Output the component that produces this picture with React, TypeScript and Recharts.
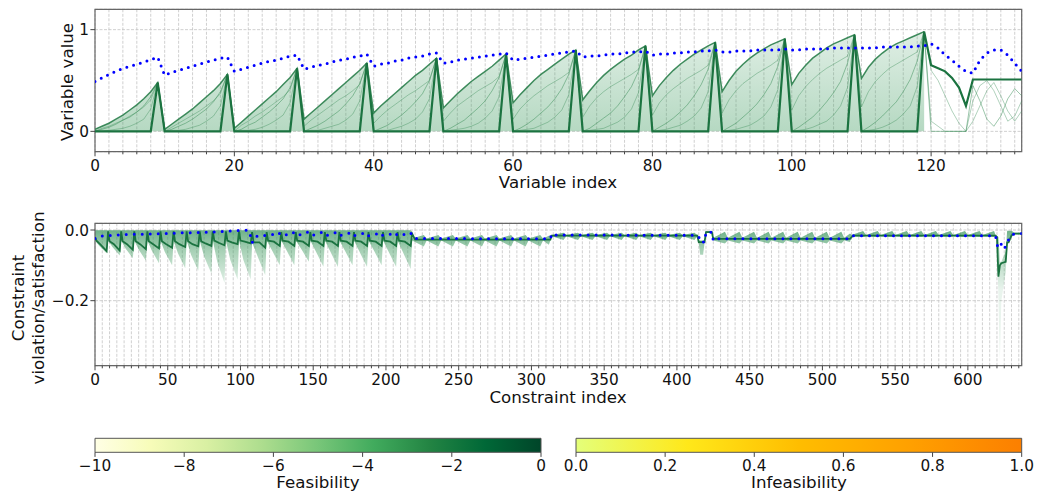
import React from "react";
import {
  ComposedChart,
  Line,
  Area,
  XAxis,
  YAxis,
  CartesianGrid,
  ReferenceArea,
} from "recharts";

const FONT = "DejaVu Sans, sans-serif";

// ---- top panel: variable values (index 0..133) ----
const finalVals = [
  0, 0, 0, 0, 0, 0, 0, 0, 0, 0.48,
  0, 0, 0, 0, 0, 0, 0, 0, 0, 0.56,
  0, 0, 0, 0, 0, 0, 0, 0, 0, 0.62,
  0, 0, 0, 0, 0, 0, 0, 0, 0, 0.67,
  0, 0, 0, 0, 0, 0, 0, 0, 0, 0.72,
  0, 0, 0, 0, 0, 0, 0, 0, 0, 0.76,
  0, 0, 0, 0, 0, 0, 0, 0, 0, 0.8,
  0, 0, 0, 0, 0, 0, 0, 0, 0, 0.84,
  0, 0, 0, 0, 0, 0, 0, 0, 0, 0.875,
  0, 0, 0, 0, 0, 0, 0, 0, 0, 0.91,
  0, 0, 0, 0, 0, 0, 0, 0, 0, 0.95,
  0, 0, 0, 0, 0, 0, 0, 0, 0, 0.98,
  0.65, 0.62, 0.59, 0.525, 0.43, 0.25, 0.51, 0.51, 0.51, 0.51, 0.51, 0.51, 0.51, 0.51,
];

const envelopeVals = [
  0.02, 0.05, 0.08, 0.12, 0.16, 0.21, 0.26, 0.32, 0.39, 0.48,
  0.02, 0.07, 0.12, 0.17, 0.22, 0.28, 0.34, 0.4, 0.47, 0.56,
  0.03, 0.09, 0.15, 0.21, 0.27, 0.33, 0.39, 0.46, 0.53, 0.62,
  0.12, 0.18, 0.24, 0.3, 0.36, 0.42, 0.48, 0.54, 0.6, 0.67,
  0.18, 0.25, 0.31, 0.37, 0.43, 0.49, 0.55, 0.6, 0.66, 0.72,
  0.23, 0.3, 0.37, 0.43, 0.49, 0.54, 0.59, 0.64, 0.7, 0.76,
  0.28, 0.36, 0.43, 0.5, 0.56, 0.61, 0.66, 0.71, 0.76, 0.8,
  0.31, 0.4, 0.48, 0.55, 0.61, 0.66, 0.71, 0.75, 0.8, 0.84,
  0.35, 0.45, 0.53, 0.6, 0.66, 0.71, 0.76, 0.8, 0.84, 0.875,
  0.39, 0.5, 0.59, 0.66, 0.72, 0.77, 0.81, 0.85, 0.88, 0.91,
  0.46, 0.57, 0.65, 0.72, 0.77, 0.82, 0.86, 0.89, 0.92, 0.95,
  0.52, 0.63, 0.71, 0.77, 0.82, 0.86, 0.89, 0.92, 0.95, 0.98,
  null, null, null, null, null, null, null, null, null, null, null, null, null, null,
];

const iterA = [
  0, 0.02, 0.04, 0.07, 0.11, 0.14, 0.19, 0.25, 0.34, 0.48,
  0, 0.02, 0.05, 0.08, 0.12, 0.17, 0.22, 0.29, 0.39, 0.56,
  0, 0.02, 0.06, 0.09, 0.14, 0.19, 0.25, 0.32, 0.43, 0.62,
  0, 0.03, 0.06, 0.1, 0.15, 0.2, 0.27, 0.35, 0.47, 0.67,
  0, 0.03, 0.06, 0.11, 0.16, 0.22, 0.29, 0.37, 0.5, 0.72,
  0, 0.03, 0.07, 0.11, 0.17, 0.23, 0.3, 0.4, 0.53, 0.76,
  0, 0.03, 0.07, 0.12, 0.18, 0.24, 0.32, 0.42, 0.56, 0.8,
  0, 0.03, 0.08, 0.13, 0.18, 0.25, 0.34, 0.44, 0.59, 0.84,
  0, 0.04, 0.08, 0.13, 0.19, 0.26, 0.35, 0.46, 0.61, 0.875,
  0, 0.04, 0.08, 0.14, 0.2, 0.27, 0.36, 0.47, 0.64, 0.91,
  0, 0.04, 0.09, 0.14, 0.21, 0.29, 0.38, 0.49, 0.67, 0.95,
  0, 0.04, 0.09, 0.15, 0.22, 0.29, 0.39, 0.51, 0.69, 0.98,
  0, 0, 0, 0, 0, 0, 0.45, 0.3, 0.12, 0.05, 0.15, 0.32, 0.42, 0.35,
];

const iterB = [
  0, 0, 0.01, 0.02, 0.03, 0.05, 0.08, 0.12, 0.22, 0.48,
  0, 0.01, 0.01, 0.02, 0.04, 0.06, 0.1, 0.15, 0.25, 0.56,
  0, 0.01, 0.01, 0.02, 0.04, 0.07, 0.11, 0.16, 0.28, 0.62,
  0, 0.01, 0.01, 0.03, 0.05, 0.07, 0.11, 0.17, 0.3, 0.67,
  0, 0.01, 0.01, 0.03, 0.05, 0.08, 0.12, 0.19, 0.32, 0.72,
  0, 0.01, 0.02, 0.03, 0.05, 0.08, 0.13, 0.2, 0.34, 0.76,
  0, 0.01, 0.02, 0.03, 0.06, 0.09, 0.14, 0.21, 0.36, 0.8,
  0, 0.01, 0.02, 0.03, 0.06, 0.09, 0.14, 0.22, 0.38, 0.84,
  0, 0.01, 0.02, 0.04, 0.06, 0.1, 0.15, 0.23, 0.39, 0.875,
  0, 0.01, 0.02, 0.04, 0.06, 0.1, 0.15, 0.24, 0.41, 0.91,
  0, 0.01, 0.02, 0.04, 0.07, 0.1, 0.16, 0.25, 0.43, 0.95,
  0, 0.01, 0.02, 0.04, 0.07, 0.11, 0.17, 0.25, 0.44, 0.98,
  0.1, 0.05, 0, 0, 0, 0, 0.1, 0.25, 0.4, 0.48, 0.35, 0.2, 0.1, 0.2,
];

const iterC = [
  0, 0.03, 0.05, 0.08, 0.11, 0.15, 0.19, 0.24, 0.31, 0.48,
  0, 0.04, 0.08, 0.12, 0.16, 0.2, 0.25, 0.3, 0.37, 0.56,
  0, 0.06, 0.1, 0.15, 0.19, 0.24, 0.29, 0.34, 0.41, 0.62,
  0.05, 0.11, 0.16, 0.21, 0.26, 0.31, 0.35, 0.4, 0.46, 0.67,
  0.08, 0.15, 0.21, 0.26, 0.31, 0.36, 0.4, 0.45, 0.5, 0.72,
  0.1, 0.18, 0.25, 0.3, 0.35, 0.4, 0.44, 0.48, 0.54, 0.76,
  0.12, 0.22, 0.29, 0.35, 0.4, 0.45, 0.49, 0.53, 0.58, 0.8,
  0.14, 0.25, 0.33, 0.39, 0.44, 0.48, 0.52, 0.56, 0.61, 0.84,
  0.16, 0.28, 0.36, 0.42, 0.47, 0.52, 0.56, 0.6, 0.65, 0.875,
  0.18, 0.31, 0.4, 0.47, 0.52, 0.57, 0.61, 0.65, 0.7, 0.91,
  0.21, 0.35, 0.44, 0.51, 0.57, 0.62, 0.66, 0.7, 0.74, 0.95,
  0.24, 0.39, 0.49, 0.56, 0.62, 0.66, 0.7, 0.74, 0.78, 0.98,
  0.6, 0.5, 0.35, 0.2, 0.08, 0, 0.3, 0.45, 0.5, 0.4, 0.25, 0.1, 0.15, 0.3,
];

const infeasTop = [
  0.49, 0.525, 0.56, 0.59, 0.62, 0.64, 0.66, 0.68, 0.705, 0.73,
  0.55, 0.58, 0.6, 0.62, 0.64, 0.66, 0.68, 0.7, 0.72, 0.73,
  0.59, 0.61, 0.63, 0.65, 0.67, 0.69, 0.7, 0.72, 0.74, 0.75,
  0.61, 0.63, 0.65, 0.66, 0.68, 0.7, 0.71, 0.73, 0.74, 0.76,
  0.64, 0.66, 0.67, 0.69, 0.7, 0.72, 0.73, 0.74, 0.76, 0.77,
  0.67, 0.68, 0.7, 0.71, 0.72, 0.73, 0.74, 0.75, 0.76, 0.77,
  0.7, 0.71, 0.72, 0.73, 0.74, 0.75, 0.76, 0.77, 0.78, 0.79,
  0.73, 0.74, 0.74, 0.75, 0.76, 0.76, 0.77, 0.78, 0.78, 0.79,
  0.75, 0.76, 0.76, 0.77, 0.77, 0.78, 0.78, 0.79, 0.79, 0.8,
  0.78, 0.78, 0.79, 0.79, 0.79, 0.8, 0.8, 0.8, 0.8, 0.81,
  0.8, 0.8, 0.81, 0.81, 0.81, 0.81, 0.82, 0.82, 0.82, 0.82,
  0.82, 0.82, 0.82, 0.83, 0.83, 0.83, 0.83, 0.83, 0.84, 0.84,
  0.86, 0.82, 0.75, 0.7, 0.64, 0.59, 0.57, 0.7, 0.77, 0.8, 0.8, 0.75, 0.67, 0.59,
];

const varMajor = [0, 20, 40, 60, 80, 100, 120];
const varMinor = Array.from({ length: 67 }, (_, k) => k * 2);

// ---- bottom panel: constraints (index 0..637) ----
const consDark: [number, number][] = [
  [0, -0.02], [1, -0.03], [4, -0.042], [8, -0.06],
  [9, -0.004], [10, -0.032], [13, -0.04], [17, -0.058],
  [18, -0.004], [19, -0.032], [22, -0.04], [26, -0.056],
  [27, -0.004], [28, -0.032], [31, -0.04], [35, -0.054],
  [36, -0.004], [37, -0.032], [40, -0.04], [44, -0.052],
  [45, -0.004], [46, -0.032], [49, -0.04], [53, -0.05],
  [54, -0.004], [55, -0.032], [58, -0.04], [62, -0.048],
  [63, -0.004], [64, -0.032], [67, -0.04], [71, -0.046],
  [72, -0.004], [73, -0.032], [76, -0.038], [80, -0.045],
  [81, -0.004], [82, -0.03], [85, -0.036], [89, -0.043],
  [90, -0.004], [91, -0.03], [94, -0.035], [98, -0.04],
  [99, -0.004], [100, -0.03], [103, -0.033], [107, -0.038],
  [108, -0.006], [109, -0.035], [113, -0.035], [117, -0.05],
  [118, -0.006], [119, -0.03], [123, -0.033], [127, -0.045],
  [128, -0.006], [129, -0.03], [133, -0.033], [137, -0.045],
  [138, -0.006], [139, -0.03], [143, -0.033], [147, -0.045],
  [148, -0.006], [149, -0.03], [153, -0.033], [157, -0.045],
  [158, -0.006], [159, -0.03], [163, -0.033], [167, -0.045],
  [168, -0.006], [169, -0.03], [173, -0.033], [177, -0.045],
  [178, -0.006], [179, -0.03], [183, -0.033], [187, -0.045],
  [188, -0.006], [189, -0.03], [193, -0.033], [197, -0.045],
  [198, -0.006], [199, -0.03], [203, -0.033], [207, -0.045],
  [208, -0.006], [209, -0.03], [213, -0.033], [217, -0.045],
  [218, -0.01], [220, -0.027], [313, -0.027], [314, -0.016], [414, -0.016],
  [415, -0.034], [419, -0.034], [420, -0.006], [424, -0.006], [425, -0.025],
  [519, -0.025], [521, -0.016], [619, -0.016], [620, -0.02], [621, -0.132],
  [622, -0.1], [623, -0.094], [626, -0.09], [627, -0.035], [628, -0.035],
  [630, -0.015], [632, -0.01], [637, -0.01],
];

// spread of earlier iterations: [index, low, high]
const consFan: [number, number, number][] = [
  [0, -0.03, -0.001], [3, -0.045, -0.001], [8, -0.066, -0.001],
  [9, -0.03, -0.001], [12, -0.048, -0.001], [17, -0.072, -0.001],
  [18, -0.03, -0.001], [21, -0.052, -0.001], [26, -0.08, -0.001],
  [27, -0.03, -0.001], [30, -0.055, -0.001], [35, -0.087, -0.001],
  [36, -0.03, -0.001], [39, -0.058, -0.001], [44, -0.094, -0.001],
  [45, -0.03, -0.001], [48, -0.062, -0.001], [53, -0.1, -0.001],
  [54, -0.03, -0.001], [57, -0.066, -0.001], [62, -0.108, -0.001],
  [63, -0.03, -0.001], [66, -0.07, -0.001], [71, -0.115, -0.001],
  [72, -0.03, -0.001], [75, -0.075, -0.001], [80, -0.123, -0.001],
  [81, -0.03, -0.001], [84, -0.09, -0.001], [89, -0.15, -0.001],
  [90, -0.03, -0.001], [93, -0.085, -0.001], [98, -0.14, -0.001],
  [99, -0.03, -0.001], [102, -0.085, -0.001], [107, -0.14, -0.001],
  [108, -0.035, -0.001], [112, -0.077, -0.001], [117, -0.128, -0.001],
  [118, -0.03, -0.001], [122, -0.06, -0.001], [127, -0.1, -0.001],
  [128, -0.03, -0.001], [132, -0.06, -0.001], [137, -0.1, -0.001],
  [138, -0.03, -0.001], [142, -0.055, -0.001], [147, -0.09, -0.001],
  [148, -0.03, -0.001], [152, -0.062, -0.001], [157, -0.104, -0.001],
  [158, -0.03, -0.001], [162, -0.063, -0.001], [167, -0.105, -0.001],
  [168, -0.03, -0.001], [172, -0.06, -0.001], [177, -0.1, -0.001],
  [178, -0.03, -0.001], [182, -0.063, -0.001], [187, -0.105, -0.001],
  [188, -0.03, -0.001], [192, -0.06, -0.001], [197, -0.1, -0.001],
  [198, -0.03, -0.001], [202, -0.063, -0.001], [207, -0.105, -0.001],
  [208, -0.03, -0.001], [212, -0.066, -0.001], [217, -0.11, -0.001],
  [218, -0.03, -0.024], [226, -0.047, -0.014], [228, -0.03, -0.024], [236, -0.047, -0.014],
  [238, -0.03, -0.024], [246, -0.047, -0.014], [248, -0.03, -0.024], [256, -0.047, -0.014],
  [258, -0.03, -0.024], [266, -0.047, -0.014], [268, -0.03, -0.024], [276, -0.047, -0.014],
  [278, -0.03, -0.024], [286, -0.047, -0.014], [288, -0.03, -0.024], [296, -0.047, -0.014],
  [298, -0.03, -0.024], [306, -0.047, -0.014], [308, -0.03, -0.024], [312, -0.042, -0.016],
  [314, -0.018, -0.014], [322, -0.028, -0.008], [324, -0.018, -0.014], [332, -0.028, -0.008],
  [334, -0.018, -0.014], [342, -0.028, -0.008], [344, -0.018, -0.014], [352, -0.028, -0.008],
  [354, -0.018, -0.014], [362, -0.028, -0.008], [364, -0.018, -0.014], [372, -0.028, -0.008],
  [374, -0.018, -0.014], [382, -0.028, -0.008], [384, -0.018, -0.014], [392, -0.028, -0.008],
  [394, -0.018, -0.014], [402, -0.028, -0.008], [404, -0.018, -0.014], [412, -0.028, -0.008],
  [414, -0.018, -0.014], [415, -0.036, -0.03], [416, -0.07, -0.03], [418, -0.07, -0.03],
  [419, -0.036, -0.03], [420, -0.008, -0.003], [424, -0.008, -0.003],
  [425, -0.03, -0.022], [433, -0.038, -0.005], [435, -0.03, -0.022], [443, -0.038, -0.005],
  [445, -0.03, -0.022], [453, -0.038, -0.005], [455, -0.03, -0.022], [463, -0.038, -0.005],
  [465, -0.03, -0.022], [473, -0.038, -0.005], [475, -0.03, -0.022], [483, -0.038, -0.005],
  [485, -0.03, -0.022], [493, -0.038, -0.005], [495, -0.03, -0.022], [503, -0.038, -0.005],
  [505, -0.03, -0.022], [513, -0.038, -0.005], [515, -0.03, -0.022], [519, -0.034, -0.01],
  [520, -0.018, -0.014], [528, -0.02, -0.003], [530, -0.018, -0.014], [538, -0.02, -0.003],
  [540, -0.018, -0.014], [548, -0.02, -0.003], [550, -0.018, -0.014], [558, -0.02, -0.003],
  [560, -0.018, -0.014], [568, -0.02, -0.003], [570, -0.018, -0.014], [578, -0.02, -0.003],
  [580, -0.018, -0.014], [588, -0.02, -0.003], [590, -0.018, -0.014], [598, -0.02, -0.003],
  [600, -0.018, -0.014], [608, -0.02, -0.003], [610, -0.018, -0.014], [618, -0.02, -0.003],
  [619, -0.018, -0.014], [620, -0.02, -0.016], [621, -0.2, -0.02], [622, -0.368, -0.09],
  [623, -0.2, -0.09], [626, -0.12, -0.06], [627, -0.04, -0.002], [630, -0.02, -0.002],
  [632, -0.012, -0.008], [637, -0.012, -0.008],
];

const consInfeas: [number, number][] = [
  [0, -0.024], [2, -0.018], [9, -0.016], [20, -0.013], [40, -0.011], [60, -0.008],
  [80, -0.006], [95, -0.002], [102, 0], [106, -0.002], [108, -0.036], [110, -0.02],
  [113, -0.014], [118, -0.016], [123, -0.012], [126, -0.006], [128, -0.016], [133, -0.012],
  [136, -0.006], [138, -0.016], [143, -0.012], [146, -0.006], [148, -0.016], [153, -0.012],
  [156, -0.006], [158, -0.016], [163, -0.012], [166, -0.006], [168, -0.016], [173, -0.012],
  [176, -0.006], [178, -0.016], [183, -0.012], [186, -0.006], [188, -0.016], [193, -0.012],
  [196, -0.006], [198, -0.016], [203, -0.012], [206, -0.006], [208, -0.016], [213, -0.012],
  [216, -0.006], [218, -0.012], [220, -0.024], [313, -0.025], [314, -0.01], [316, -0.014],
  [414, -0.015], [415, -0.018], [416, -0.034], [419, -0.034], [420, -0.006], [424, -0.006],
  [425, -0.03], [426, -0.025], [518, -0.025], [520, -0.016], [619, -0.016], [620, -0.04],
  [621, -0.052], [623, -0.04], [625, -0.054], [627, -0.035], [629, -0.02], [631, -0.012],
  [637, -0.01],
];

const consMajor = [0, 50, 100, 150, 200, 250, 300, 350, 400, 450, 500, 550, 600];
const consMinor = Array.from({ length: 128 }, (_, k) => k * 5);

// colorbars
const feasTicks = [-10, -8, -6, -4, -2, 0];
const infeasTicks = [0, 0.2, 0.4, 0.6, 0.8, 1.0];
const ylgnStops = ["#ffffe5", "#f7fcb9", "#d9f0a3", "#addd8e", "#78c679", "#41ab5d", "#238443", "#006837", "#004529"];
const wistiaStops = ["#e4ff7a", "#ffe81a", "#ffbd00", "#ffa000", "#fc7f00"];

const minus = (v: number, digits: number) =>
  (v < 0 ? "\u2212" : "") + Math.abs(v).toFixed(digits);

function xTick(major: number[], fmt: (v: number) => string) {
  return (p: any) => {
    const isMajor = major.includes(p.payload.value);
    return (
      <g>
        <line x1={p.x} x2={p.x} y1={p.y} y2={p.y + (isMajor ? 4.6 : 2.6)} stroke="#444" strokeWidth={1} />
        {isMajor && (
          <text x={p.x} y={p.y + 19} textAnchor="middle" fontSize={15.3} fontFamily={FONT} fill="#111">
            {fmt(p.payload.value)}
          </text>
        )}
      </g>
    );
  };
}

function yTick(fmt: (v: number) => string) {
  return (p: any) => (
    <g>
      <line x1={p.x} x2={p.x - 4.6} y1={p.y} y2={p.y} stroke="#444" strokeWidth={1} />
      <text x={p.x - 6} y={p.y} dy="0.36em" textAnchor="end" fontSize={15.3} fontFamily={FONT} fill="#111">
        {fmt(p.payload.value)}
      </text>
    </g>
  );
}

function Title({ x, y, rotate, children }: any) {
  return (
    <div
      style={{
        position: "absolute",
        left: x,
        top: y,
        transform: `translate(-50%, -50%)${rotate ? " rotate(-90deg)" : ""}`,
        fontFamily: FONT,
        fontSize: 16.67,
        lineHeight: "20px",
        color: "#111",
        whiteSpace: "nowrap",
        textAlign: "center",
      }}
    >
      {children}
    </div>
  );
}

function ColorBar({ left, width, marginLeft, marginRight, ticks, gradient, fmt }: any) {
  const lo = ticks[0];
  const hi = ticks[ticks.length - 1];
  const barData = [{ v: lo, y: 1 }, { v: hi, y: 1 }];
  return (
    <div style={{ position: "absolute", left, top: 420 }}>
      <ComposedChart width={width} height={80} data={barData} margin={{ top: 18.3, right: marginRight, bottom: 17.7, left: marginLeft }}>
        <XAxis dataKey="v" type="number" domain={[lo, hi]} ticks={ticks} interval={0} height={30}
          tickSize={0} tickMargin={0} axisLine={false} tickLine={false} tick={xTick(ticks, fmt)} />
        <YAxis hide type="number" domain={[0, 1]} />
        <Area dataKey="y" type="linear" baseValue={0} stroke="none" fill={`url(#${gradient})`} fillOpacity={1} isAnimationActive={false} />
        <ReferenceArea x1={lo} x2={hi} y1={0} y2={1} fill="none" stroke="#555" strokeWidth={1} />
      </ComposedChart>
    </div>
  );
}

export default function App() {
  const topData = finalVals.map((f, i) => ({
    i,
    fin: f,
    env: envelopeVals[i],
    a: iterA[i],
    b: iterB[i],
    c: iterC[i],
    inf: infeasTop[i],
  }));
  const darkData = consDark.map(([x, v]) => ({ x, v }));
  const fanData = consFan.map(([x, lo, hi]) => ({ x, r: [lo, hi] }));
  const infData = consInfeas.map(([x, v]) => ({ x, v }));

  return (
    <div style={{ position: "absolute", left: 0, top: 0, width: 1039, height: 500, background: "#fff" }}>
      <svg width={0} height={0} style={{ position: "absolute" }}>
        <defs>
          <linearGradient id="ylgn" x1="0" y1="0" x2="1" y2="0">
            {ylgnStops.map((c, k) => (
              <stop key={k} offset={k / (ylgnStops.length - 1)} stopColor={c} />
            ))}
          </linearGradient>
          <linearGradient id="wistia" x1="0" y1="0" x2="1" y2="0">
            {wistiaStops.map((c, k) => (
              <stop key={k} offset={k / (wistiaStops.length - 1)} stopColor={c} />
            ))}
          </linearGradient>
          <linearGradient id="fanTop" x1="0" y1="0" x2="0" y2="1">
            <stop offset="0" stopColor="#3d9a5e" stopOpacity={0.16} />
            <stop offset="1" stopColor="#3d9a5e" stopOpacity={0.38} />
          </linearGradient>
          <linearGradient id="fanBottom" gradientUnits="userSpaceOnUse" x1="0" y1="30" x2="0" y2="90">
            <stop offset="0" stopColor="#2f8f55" stopOpacity={0.7} />
            <stop offset="0.35" stopColor="#3d9a5e" stopOpacity={0.45} />
            <stop offset="1" stopColor="#4aa36a" stopOpacity={0.12} />
          </linearGradient>
        </defs>
      </svg>

      {/* top panel */}
      <div style={{ position: "absolute", left: 0, top: 0 }}>
        <ComposedChart width={1039} height={200} data={topData} margin={{ top: 9.3, right: 17.3, bottom: 18.3, left: 0 }}>
          <CartesianGrid stroke="#c4c4c4" strokeDasharray="3 1.5" strokeWidth={0.8} />
          <XAxis dataKey="i" type="number" domain={[0, 133]} ticks={varMinor} interval={0} height={30}
            tickSize={0} tickMargin={0} axisLine={false} tickLine={false} allowDataOverflow
            tick={xTick(varMajor, (v) => String(v))} />
          <YAxis type="number" domain={[-0.2, 1.2]} ticks={[0, 1]} interval={0} width={95}
            tickSize={0} tickMargin={0} axisLine={false} tickLine={false} allowDataOverflow
            tick={yTick((v) => String(v))} />
          <Area dataKey="env" type="linear" baseValue={0} stroke="none" fill="url(#fanTop)" fillOpacity={1} isAnimationActive={false} />
          <Line dataKey="b" type="linear" stroke="#3c8f5a" strokeOpacity={0.4} strokeWidth={1} dot={false} isAnimationActive={false} />
          <Line dataKey="c" type="linear" stroke="#3c8f5a" strokeOpacity={0.4} strokeWidth={1} dot={false} isAnimationActive={false} />
          <Line dataKey="a" type="linear" stroke="#3c8f5a" strokeOpacity={0.5} strokeWidth={1} dot={false} isAnimationActive={false} />
          <Line dataKey="env" type="linear" stroke="#2b804c" strokeOpacity={0.9} strokeWidth={1.5} dot={false} isAnimationActive={false} />
          <Line dataKey="fin" type="linear" stroke="#1b7340" strokeWidth={2.2} dot={false} isAnimationActive={false} />
          <Line dataKey="inf" type="linear" stroke="#0000ff" strokeWidth={3} strokeDasharray="0 7" strokeLinecap="round" dot={false} isAnimationActive={false} />
          <ReferenceArea x1={0} x2={133} y1={-0.2} y2={1.2} fill="none" stroke="#666" strokeWidth={1.2} />
        </ComposedChart>
      </div>

      {/* bottom panel */}
      <div style={{ position: "absolute", left: 0, top: 200 }}>
        <ComposedChart width={1039} height={215} margin={{ top: 23.3, right: 17.3, bottom: 19.3, left: 0 }}>
          <CartesianGrid stroke="#c4c4c4" strokeDasharray="3 1.5" strokeWidth={0.8} />
          <XAxis dataKey="x" type="number" domain={[0, 637]} ticks={consMinor} interval={0} height={30}
            tickSize={0} tickMargin={0} axisLine={false} tickLine={false} allowDataOverflow
            tick={xTick(consMajor, (v) => String(v))} />
          <YAxis type="number" domain={[-0.384, 0.019]} ticks={[-0.2, 0]} interval={0} width={95}
            tickSize={0} tickMargin={0} axisLine={false} tickLine={false} allowDataOverflow
            tick={yTick((v) => minus(v, 1))} />
          <Area data={fanData} dataKey="r" type="linear" stroke="none" fill="url(#fanBottom)" fillOpacity={1} isAnimationActive={false} />
          <Line data={darkData} dataKey="v" type="linear" stroke="#1b7340" strokeWidth={1.8} dot={false} isAnimationActive={false} />
          <Line data={infData} dataKey="v" type="linear" stroke="#0000ff" strokeWidth={3} strokeDasharray="0 8" strokeLinecap="round" dot={false} isAnimationActive={false} />
          <ReferenceArea x1={0} x2={637} y1={-0.384} y2={0.019} fill="none" stroke="#666" strokeWidth={1.2} />
        </ComposedChart>
      </div>

      {/* colorbars */}
      <ColorBar left={0} width={560} marginLeft={95} marginRight={19} ticks={feasTicks} gradient="ylgn" fmt={(v: number) => minus(v, 0)} />
      <ColorBar left={540} width={499} marginLeft={36} marginRight={17.3} ticks={infeasTicks} gradient="wistia" fmt={(v: number) => v.toFixed(1)} />

      <Title x={67.5} y={82} rotate>Variable value</Title>
      <Title x={558} y={183}>Variable index</Title>
      <Title x={28.8} y={298} rotate>
        Constraint
        <br />
        violation/satisfaction
      </Title>
      <Title x={558} y={397.5}>Constraint index</Title>
      <Title x={318} y={482.6}>Feasibility</Title>
      <Title x={799} y={482.6}>Infeasibility</Title>
    </div>
  );
}
